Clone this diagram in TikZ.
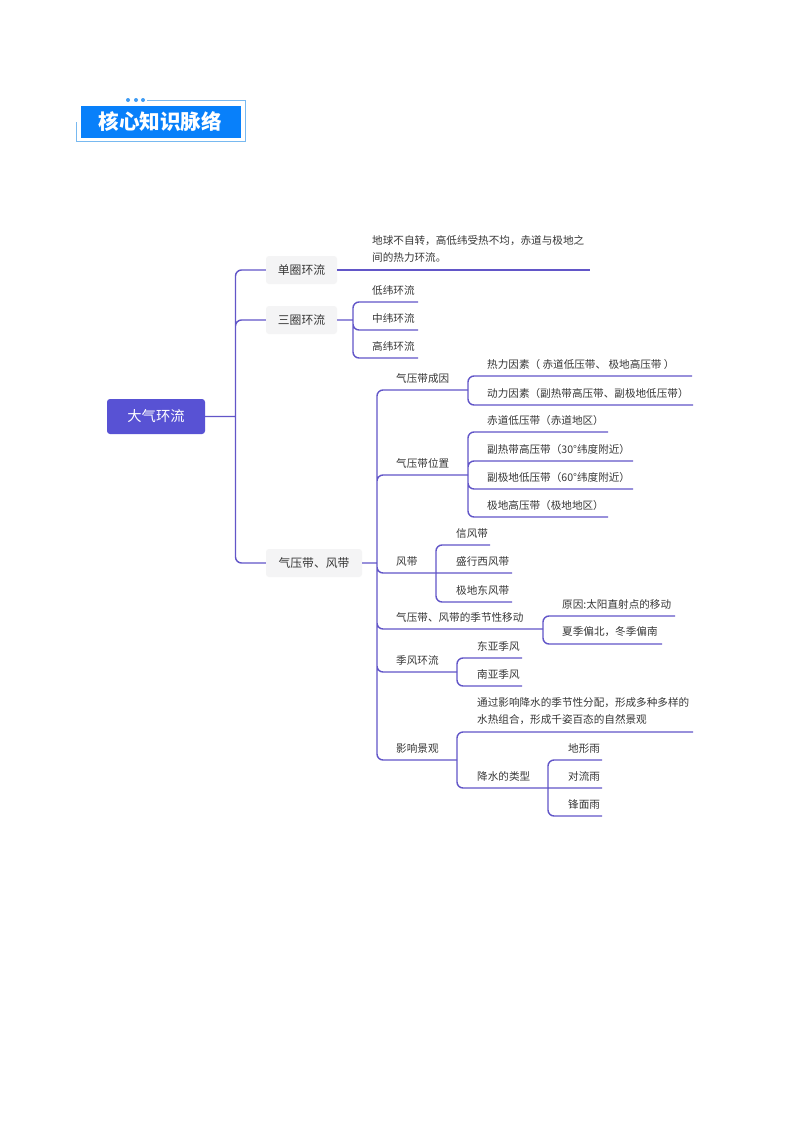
\documentclass[tikz,border=0pt]{standalone}
\usepackage{fontspec}
\setmainfont{Noto Sans CJK SC}
\definecolor{linkc}{RGB}{98,86,200}
\definecolor{rootc}{RGB}{88,82,212}
\definecolor{titlec}{RGB}{8,128,250}
\definecolor{framec}{RGB}{120,185,240}
\definecolor{pillc}{RGB}{244,244,245}
\definecolor{textc}{RGB}{55,55,55}
\tikzset{
 link/.style={draw=linkc,line width=1.4pt,rounded corners=6pt},
 lab/.style={anchor=west,inner sep=0pt,text=textc,font=\fontsize{10.6}{17}\selectfont},
 pill/.style={fill=pillc,rounded corners=3pt,inner sep=0pt,text=textc,minimum height=28pt,font=\fontsize{11.8}{14}\selectfont},
 rootbox/.style={fill=rootc,rounded corners=3pt,inner sep=0pt,text=white,minimum width=98pt,minimum height=35pt,font=\fontsize{14.3}{17}\selectfont},
 frameline/.style={draw=framec,line width=1pt},
 dotm/.style={circle,fill=framec!50!titlec,inner sep=0pt,minimum size=4pt}
}
\begin{document}
\begin{tikzpicture}[x=1pt,y=-1pt]
\useasboundingbox (0,0) rectangle (800,1132);
\fill[white] (0,0) rectangle (800,1132);
% title
\coordinate (fa) at (147,100); \coordinate (fb) at (245,100); \coordinate (fc) at (245,141);
\coordinate (fd) at (76,141); \coordinate (fe) at (76,122);
\draw[frameline] (fa) -- (fb) -- (fc) -- (fd) -- (fe);
\node[fill=titlec,minimum width=160pt,minimum height=32pt,inner sep=0pt,text=white,font=\fontsize{20.6}{24}\bfseries\selectfont] (title) at (161,122) {\hspace{-1.5pt}核心知识脉络};
\node[dotm] (d1) at (128,100) {}; \node[dotm] (d2) at (136,100) {}; \node[dotm] (d3) at (143,100) {};
% level 0, 1
\node[rootbox] (root) at (156,416.5) {大气环流};
\node[pill,minimum width=71pt] (n1) at (301.5,270) {单圈环流};
\node[pill,minimum width=71pt] (n2) at (301.5,320) {三圈环流};
\node[pill,minimum width=96pt] (n3) at (314,563) {气压带、风带};
\coordinate (jr) at (235.5,417);
\draw[link] (root.east) -- (root.east -| jr) (jr) |- (n1.west) (jr) |- (n2.west) (jr) |- (n3.west);
% single
\node[lab] (t1) at (372,249.5) {\begin{tabular}{@{}l@{}}地球不自转，高低纬受热不均，赤道与极地之\\[0pt]间的热力环流。\end{tabular}};
\coordinate (e1) at (590,270);
\draw[link] (n1.east) -- (e1);
% three-cell
\coordinate (j2) at (353,320);
\node[lab] (a1) at (372,290) {低纬环流}; \coordinate (ea1) at (418,302);
\node[lab] (a2) at (372,318) {中纬环流}; \coordinate (ea2) at (418,330);
\node[lab] (a3) at (372,346) {高纬环流}; \coordinate (ea3) at (418,358);
\draw[link] (n2.east) -- (j2) (j2) |- (ea1) (j2) |- (ea2) (j2) |- (ea3);
% belts trunk
\coordinate (j3) at (377,563);
\node[lab] (b1) at (396,378) {气压带成因}; \coordinate (jb1) at (468,390);
\node[lab] (b2) at (396,463) {气压带位置}; \coordinate (jb2) at (468,475);
\node[lab] (b3) at (396,561) {风带}; \coordinate (jb3) at (436,573);
\node[lab] (b4) at (396,617) {气压带、风带的季节性移动}; \coordinate (jb4) at (543,629);
\node[lab] (b5) at (396,660) {季风环流}; \coordinate (jb5) at (457,672);
\node[lab] (b6) at (396,748) {影响景观}; \coordinate (jb6) at (457,760);
\draw[link] (n3.east) -- (j3) (j3) |- (jb1) (j3) |- (jb2) (j3) |- (jb3) (j3) |- (jb4) (j3) |- (jb5) (j3) |- (jb6);
% causes
\node[lab] (c1) at (487,364) {热力因素（ 赤道低压带、 极地高压带 ）}; \coordinate (ec1) at (692,376);
\node[lab] (c2) at (487,393) {动力因素（副热带高压带、副极地低压带）}; \coordinate (ec2) at (693,405);
\draw[link] (jb1) |- (ec1) (jb1) |- (ec2);
% positions
\node[lab] (p1) at (487,420) {赤道低压带（赤道地区）}; \coordinate (ep1) at (608,432);
\node[lab] (p2) at (487,449) {副热带高压带（30°纬度附近）}; \coordinate (ep2) at (633,461);
\node[lab] (p3) at (487,477) {副极地低压带（60°纬度附近）}; \coordinate (ep3) at (633,489);
\node[lab] (p4) at (487,505) {极地高压带（极地地区）}; \coordinate (ep4) at (608,517);
\draw[link] (jb2) |- (ep1) (jb2) |- (ep2) (jb2) |- (ep3) (jb2) |- (ep4);
% winds
\node[lab] (w1) at (456,533) {信风带}; \coordinate (ew1) at (490,545);
\node[lab] (w2) at (456,561) {盛行西风带}; \coordinate (ew2) at (512,573);
\node[lab] (w3) at (456,590) {极地东风带}; \coordinate (ew3) at (512,602);
\draw[link] (jb3) |- (ew1) (jb3) -- (ew2) (jb3) |- (ew3);
% seasonal
\node[lab] (s1) at (562,604) {原因:太阳直射点的移动}; \coordinate (es1) at (675,616);
\node[lab] (s2) at (562,632) {夏季偏北，冬季偏南}; \coordinate (es2) at (662,644);
\draw[link] (jb4) |- (es1) (jb4) |- (es2);
% monsoon
\node[lab] (m1) at (477,646) {东亚季风}; \coordinate (em1) at (522,658);
\node[lab] (m2) at (477,674) {南亚季风}; \coordinate (em2) at (522,686);
\draw[link] (jb5) |- (em1) (jb5) |- (em2);
% landscape
\node[lab] (l1) at (477,711.5) {\begin{tabular}{@{}l@{}}通过影响降水的季节性分配，形成多种多样的\\[0pt]水热组合，形成千姿百态的自然景观\end{tabular}}; \coordinate (el1) at (693,732);
\node[lab] (l2) at (477,776) {降水的类型}; \coordinate (jl2) at (548,788);
\draw[link] (jb6) |- (el1) (jb6) |- (jl2);
\node[lab] (r1) at (568,748) {地形雨}; \coordinate (er1) at (602,760);
\node[lab] (r2) at (568,776) {对流雨}; \coordinate (er2) at (602,788);
\node[lab] (r3) at (568,804) {锋面雨}; \coordinate (er3) at (602,816);
\draw[link] (jl2) |- (er1) (jl2) -- (er2) (jl2) |- (er3);
\end{tikzpicture}
\end{document}
